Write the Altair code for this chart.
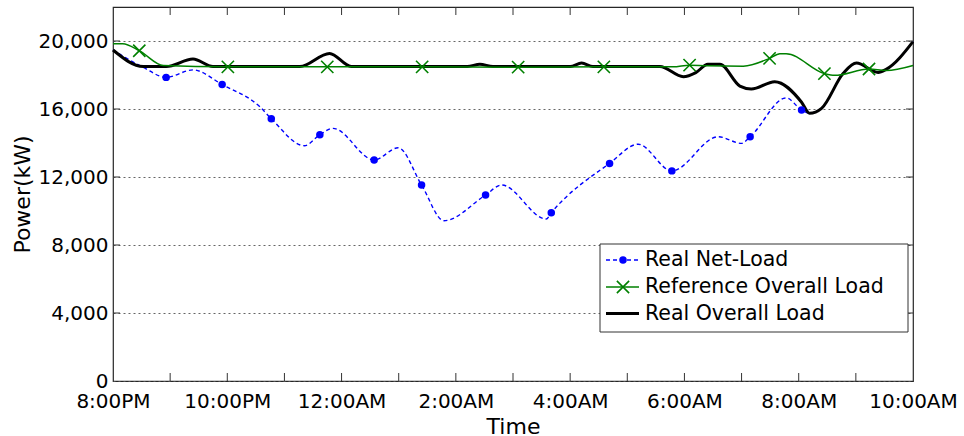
import json

import altair as alt
import pandas as pd

# Time is measured in hours after 8:00 PM; power in kW.
net_hours = [0, 0.53, 0.93, 1.40, 1.91, 2.57, 2.77, 3.35, 3.62, 3.85, 4.57, 4.99,
             5.40, 5.79, 6.52, 6.80, 7.58, 7.67, 8.69, 9.19, 9.78, 10.59, 11.0,
             11.15, 11.78, 12.05, 12.19, 12.40, 12.78, 13.01, 13.39, 13.53, 14.0]
net_kw = [19470, 18450, 17860, 18300, 17440, 16130, 15430, 13840, 14490, 14860,
          13000, 13720, 11530, 9430, 10940, 11530, 9530, 9900, 12800, 13930,
          12360, 14370, 13980, 14370, 16650, 15940, 15750, 16040, 18100, 18700,
          18150, 18330, 19960]
net_marked = [0.93, 1.91, 2.77, 3.62, 4.57, 5.40, 6.52, 7.67, 8.69, 9.78, 11.15, 12.05]

ref_hours = [0, 0.17, 0.46, 0.88, 2.01, 3.75, 5.41, 7.09, 8.59, 9.8, 10.09, 10.4,
             11.03, 11.49, 11.67, 11.78, 12.45, 12.63, 13.23, 13.53, 14.0]
ref_kw = [19840, 19840, 19430, 18560, 18480, 18480, 18480, 18460, 18480, 18480,
          18580, 18540, 18520, 18980, 19250, 19250, 18080, 17980, 18350, 18260, 18560]
ref_marked = [0.46, 2.01, 3.75, 5.41, 7.09, 8.59, 10.09, 11.49, 12.45, 13.23]

real_hours = [0, 0.53, 0.93, 1.40, 1.75, 3.27, 3.79, 4.17, 6.2, 6.42, 6.65, 8.0,
              8.2, 8.4, 9.57, 9.98, 10.2, 10.41, 10.62, 10.97, 11.17, 11.58, 12.05,
              12.19, 12.40, 12.78, 13.01, 13.39, 13.53, 14.0]
real_kw = [19470, 18500, 18500, 18940, 18500, 18500, 19270, 18500, 18500, 18630,
           18500, 18500, 18700, 18500, 18500, 17900, 18140, 18630, 18630, 17350,
           17180, 17610, 16400, 15750, 16040, 18100, 18700, 18150, 18330, 19960]

tick_labels = ["8:00PM", "10:00PM", "12:00AM", "2:00AM", "4:00AM",
               "6:00AM", "8:00AM", "10:00AM"]
label_hours = [0, 2, 4, 6, 8, 10, 12, 14]
minor_hours = list(range(1, 14))
power_ticks = [0, 4000, 8000, 12000, 16000, 20000]
series_names = ["Real Net-Load", "Reference Overall Load", "Real Overall Load"]

BLUE, GREEN, BLACK = "#0000ff", "#008000", "#000000"
X_SHAPE = "M-1,-1L1,1M-1,1L1,-1"
FONT = "DejaVu Sans"
W, H = 800, 374
DOT_SIZE = 56

net = pd.DataFrame({"h": net_hours, "kw": net_kw})
net_pts = net[net["h"].isin(net_marked)]
ref = pd.DataFrame({"h": ref_hours, "kw": ref_kw})
ref_pts = ref[ref["h"].isin(ref_marked)]
real = pd.DataFrame({"h": real_hours, "kw": real_kw})

xs = alt.Scale(domain=[0, 14], nice=False, zero=False)
ys = alt.Scale(domain=[0, 22000], nice=False)

x_axis = alt.Axis(
    values=label_hours,
    labelExpr=json.dumps(tick_labels) + "[round(datum.value / 2)]",
    title="Time", titleFont=FONT, titleFontSize=22, titleFontWeight="normal",
    titleY=52, titleBaseline="alphabetic", titleColor="black",
    labelFont=FONT, labelFontSize=20, labelColor="black", labelPadding=10,
    labelFlush=False, labelOverlap=False,
    tickSize=0, domain=False, grid=False,
)
y_axis = alt.Axis(
    values=power_ticks, format=",.0f",
    title="Power(kW)", titleFont=FONT, titleFontSize=22, titleFontWeight="normal",
    titleX=-91, titleY=H / 2, titleAngle=270, titleAlign="center",
    titleBaseline="middle", titleColor="black",
    labelFont=FONT, labelFontSize=20, labelColor="black", labelPadding=5,
    tickSize=0, domain=False,
    grid=True, gridDash=[2, 3], gridColor="#555555", gridWidth=0.9,
)

X = alt.X("h:Q", scale=xs, axis=x_axis)
Y = alt.Y("kw:Q", scale=ys, axis=y_axis)

net_line = alt.Chart(net).mark_line(
    color=BLUE, strokeWidth=1.4, strokeDash=[4, 3], interpolate="monotone"
).encode(x=X, y=Y)
real_line = alt.Chart(real).mark_line(
    color=BLACK, strokeWidth=3, interpolate="monotone"
).encode(x=X, y=Y)
ref_line = alt.Chart(ref).mark_line(
    color=GREEN, strokeWidth=1.5, interpolate="monotone"
).encode(x=X, y=Y)
ref_marks = alt.Chart(ref_pts).mark_point(
    shape=X_SHAPE, size=150, filled=False, color=GREEN, strokeWidth=1.6, opacity=1
).encode(x=X, y=Y)
net_marks = alt.Chart(net_pts).mark_point(
    shape="circle", size=DOT_SIZE, filled=True, color=BLUE, opacity=1
).encode(x=X, y=Y)

# Inward tick marks on all four sides of the box
hour_ticks = pd.DataFrame({"h": minor_hours})
power_tick_df = pd.DataFrame({"kw": power_ticks[1:]})
ticks_bottom = alt.Chart(hour_ticks).mark_rule(color="#333333", strokeWidth=1).encode(
    x=X, y=alt.value(H), y2=alt.value(H - 8))
ticks_top = alt.Chart(hour_ticks).mark_rule(color="#333333", strokeWidth=1).encode(
    x=X, y=alt.value(0), y2=alt.value(8))
ticks_left = alt.Chart(power_tick_df).mark_rule(color="#333333", strokeWidth=1).encode(
    y=Y, x=alt.value(0), x2=alt.value(7))
ticks_right = alt.Chart(power_tick_df).mark_rule(color="#333333", strokeWidth=1).encode(
    y=Y, x=alt.value(W - 7), x2=alt.value(W))

# Legend box
one = pd.DataFrame({"k": [0]})
leg_left, leg_right, leg_top, leg_bottom = 487, 795, 237, 325
row_y = [253, 280, 306.5]
sym_x0, sym_x1, sym_mid, text_x = 493, 526, 510, 532

legend_layers = [
    alt.Chart(one).mark_rect(fill="white", stroke="#333333", strokeWidth=1).encode(
        x=alt.value(leg_left), x2=alt.value(leg_right),
        y=alt.value(leg_top), y2=alt.value(leg_bottom)),
    alt.Chart(one).mark_rule(color=BLUE, strokeWidth=1.4, strokeDash=[4, 3]).encode(
        x=alt.value(sym_x0), x2=alt.value(sym_x1), y=alt.value(row_y[0])),
    alt.Chart(one).mark_point(shape="circle", size=DOT_SIZE, filled=True, color=BLUE,
                              opacity=1).encode(
        x=alt.value(sym_mid), y=alt.value(row_y[0])),
    alt.Chart(one).mark_rule(color=GREEN, strokeWidth=1.5).encode(
        x=alt.value(sym_x0), x2=alt.value(sym_x1), y=alt.value(row_y[1])),
    alt.Chart(one).mark_point(shape=X_SHAPE, size=150, filled=False, color=GREEN,
                              strokeWidth=1.6, opacity=1).encode(
        x=alt.value(sym_mid), y=alt.value(row_y[1])),
    alt.Chart(one).mark_rule(color=BLACK, strokeWidth=3).encode(
        x=alt.value(sym_x0), x2=alt.value(sym_x1), y=alt.value(row_y[2])),
]
for name, yy in zip(series_names, row_y):
    legend_layers.append(
        alt.Chart(pd.DataFrame({"name": [name]})).mark_text(
            align="left", baseline="middle", font=FONT, fontSize=20.5, color="black"
        ).encode(x=alt.value(text_x), y=alt.value(yy), text="name:N")
    )

chart = alt.layer(
    net_line, real_line, ref_line, ref_marks, net_marks,
    ticks_bottom, ticks_top, ticks_left, ticks_right,
    *legend_layers,
).properties(
    width=W, height=H,
    autosize=alt.AutoSizeParams(type="none"),
    padding={"left": 113, "top": 7, "right": 51, "bottom": 55},
    background="white",
).configure_view(
    stroke="#262626", strokeWidth=1.2
)

chart.save("out.html", embed_options={"renderer": "svg", "actions": False})
